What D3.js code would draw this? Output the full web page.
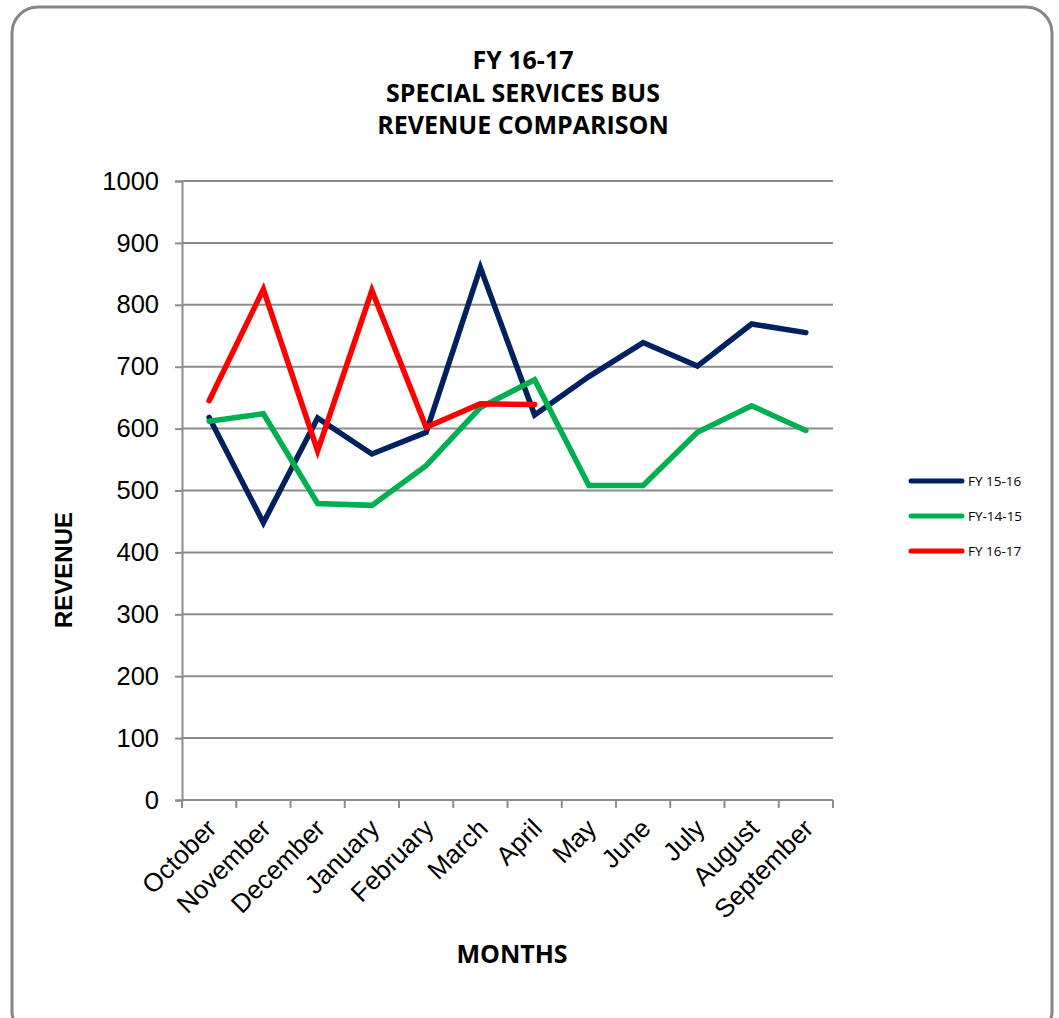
<!DOCTYPE html>
<html>
<head>
<meta charset="utf-8">
<script src="https://cdn.jsdelivr.net/npm/d3@7"></script>
<style>
  body { margin: 0; background: #fff; }
</style>
</head>
<body>
<div id="chart"></div>
<script>
// chart data
var months = ["October", "November", "December", "January", "February", "March",
  "April", "May", "June", "July", "August", "September"];
var fy1516 = [618, 448, 617, 559, 594, 860, 622, 684, 739, 701, 769, 755];
var fy1415 = [612, 624, 479, 476, 540, 634, 679, 508, 508, 594, 637, 597];
var fy1617 = [645, 825, 564, 823, 602, 640, 639];
var seriesNames = ["FY 15-16", "FY-14-15", "FY 16-17"];
var yTicks = [0, 100, 200, 300, 400, 500, 600, 700, 800, 900, 1000];

// Define SVG area dimensions
var svgWidth = 1059;
var svgHeight = 1018;

var plot = { left: 182, right: 833, top: 181, bottom: 800 };

var svg = d3.select("#chart")
  .append("svg")
  .attr("width", svgWidth)
  .attr("height", svgHeight);

// rounded frame of the chart area
svg.append("rect")
  .attr("x", 12).attr("y", 7)
  .attr("width", 1040).attr("height", 1030)
  .attr("rx", 26).attr("ry", 26)
  .attr("fill", "#fff")
  .attr("stroke", "#868686")
  .attr("stroke-width", 3);

var xScale = d3.scaleBand()
  .domain(months)
  .range([plot.left, plot.right]);

var yScale = d3.scaleLinear()
  .domain([0, 1000])
  .range([plot.bottom, plot.top]);

// horizontal gridlines
svg.append("g")
  .selectAll("line")
  .data(yTicks.slice(1))
  .enter()
  .append("line")
  .attr("x1", plot.left)
  .attr("x2", plot.right)
  .attr("y1", d => yScale(d))
  .attr("y2", d => yScale(d))
  .attr("stroke", "#8c8c8c")
  .attr("stroke-width", 2);

// y axis
var leftAxis = d3.axisLeft(yScale)
  .tickValues(yTicks)
  .tickFormat(d3.format("d"))
  .tickSize(7)
  .tickPadding(16);
var yAxis = svg.append("g")
  .attr("transform", `translate(${plot.left},0)`)
  .call(leftAxis);
yAxis.select(".domain").attr("stroke", "#8c8c8c").attr("stroke-width", 2);
yAxis.selectAll(".tick line").attr("stroke", "#8c8c8c").attr("stroke-width", 2);
yAxis.selectAll(".tick text")
  .attr("font-family", "'Liberation Sans', Arial, sans-serif")
  .attr("font-size", 25.5)
  .attr("fill", "#000");

// x axis - tick marks between categories
var xAxis = svg.append("g");
xAxis.append("line")
  .attr("x1", plot.left).attr("x2", plot.right)
  .attr("y1", plot.bottom).attr("y2", plot.bottom)
  .attr("stroke", "#8c8c8c").attr("stroke-width", 2);
var boundaries = months.map(m => xScale(m)).concat([plot.right]);
xAxis.selectAll(".xtick")
  .data(boundaries)
  .enter()
  .append("line")
  .attr("class", "xtick")
  .attr("x1", d => d).attr("x2", d => d)
  .attr("y1", plot.bottom).attr("y2", plot.bottom + 8)
  .attr("stroke", "#8c8c8c").attr("stroke-width", 2);

xAxis.selectAll(".xlabel")
  .data(months)
  .enter()
  .append("text")
  .attr("class", "xlabel")
  .attr("text-anchor", "end")
  .attr("font-family", "'Liberation Sans', Arial, sans-serif")
  .attr("font-size", 26)
  .attr("transform", d => {
    var cx = xScale(d) + xScale.bandwidth() / 2;
    return `translate(${cx + 9},${plot.bottom + 30}) rotate(-45)`;
  })
  .text(d => d);

// lines
var lineGen = d3.line()
  .x((d, i) => xScale(months[i]) + xScale.bandwidth() / 2)
  .y(d => yScale(d));

var series = [
  { name: seriesNames[0], values: fy1516, color: "#002060" },
  { name: seriesNames[1], values: fy1415, color: "#00b050" },
  { name: seriesNames[2], values: fy1617, color: "#ff0000" }
];

series.forEach(s => {
  svg.append("path")
    .datum(s.values)
    .attr("d", lineGen)
    .attr("fill", "none")
    .attr("stroke", s.color)
    .attr("stroke-width", 5.5)
    .attr("stroke-linejoin", "miter")
    .attr("stroke-linecap", "round");
});

// legend
var legend = svg.append("g").attr("transform", "translate(909,481)");
series.forEach((s, i) => {
  var g = legend.append("g").attr("transform", `translate(0,${i * 35})`);
  g.append("line")
    .attr("x1", 2).attr("x2", 53)
    .attr("y1", 0).attr("y2", 0)
    .attr("stroke", s.color)
    .attr("stroke-width", 5)
    .attr("stroke-linecap", "round");
  g.append("text")
    .attr("x", 59).attr("y", 5)
    .attr("font-family", "'Open Sans', Lato, sans-serif")
    .attr("font-size", 13.5)
    .text(s.name);
});

// titles
var titleLines = ["FY 16-17", "SPECIAL SERVICES BUS", "REVENUE COMPARISON"];
svg.append("g")
  .selectAll("text")
  .data(titleLines)
  .enter()
  .append("text")
  .attr("x", 523)
  .attr("y", (d, i) => 69 + i * 32.5)
  .attr("text-anchor", "middle")
  .attr("font-family", "'Open Sans', Lato, sans-serif")
  .attr("font-weight", "bold")
  .attr("font-size", 25)
  .text(d => d);

svg.append("text")
  .attr("x", 512)
  .attr("y", 963)
  .attr("text-anchor", "middle")
  .attr("font-family", "'Open Sans', Lato, sans-serif")
  .attr("font-weight", "bold")
  .attr("font-size", 25)
  .text("MONTHS");

svg.append("text")
  .attr("transform", "translate(72,570) rotate(-90)")
  .attr("text-anchor", "middle")
  .attr("font-family", "'Liberation Sans', Arial, sans-serif")
  .attr("font-weight", "bold")
  .attr("font-size", 24)
  .text("REVENUE");
</script>
</body>
</html>
